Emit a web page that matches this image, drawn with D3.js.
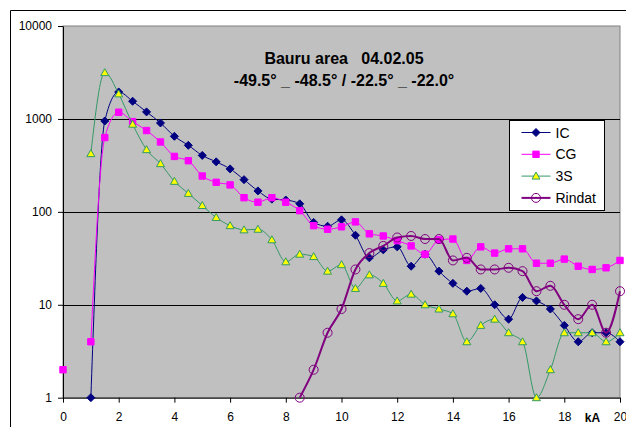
<!DOCTYPE html>
<html>
<head>
<meta charset="utf-8">
<script src="https://cdn.jsdelivr.net/npm/d3@7"></script>
<style>
  html, body { margin: 0; padding: 0; background: #fff; }
  svg { display: block; font-family: Arial, "Liberation Sans", sans-serif; }
</style>
</head>
<body>
<svg id="chart" width="626" height="427"></svg>
<script>
// ---- data (kA classes, counts) ----
const kA = [0,0.5,1,1.5,2,2.5,3,3.5,4,4.5,5,5.5,6,6.5,7,7.5,8,8.5,9,9.5,10,10.5,11,11.5,12,12.5,13,13.5,14,14.5,15,15.5,16,16.5,17,17.5,18,18.5,19,19.5,20];
const IC = [null,null,1,950,1950,1550,1190,905,650,520,405,345,290,222,168,137,134,122,77,70,82,56,32,39,42,26,35,23,17,14,15,10,7,12,11,9,6,4,5,5,4];
const CG = [2,null,4,630,1180,935,750,565,395,355,243,208,195,142,127,142,127,103,71,65,69,78,58,55,49,43,35,50,51,30,42,36,40,40,28,28,31,26,24,25,30];
const S3 = [null,null,423,3150,1860,877,467,330,213,158,117,87,71,64,65,50,29,35,33,23,27,15,21,17,11,13,10,9,8,4,6,7,5,4,1,2,5,5,5,4,5];
const Rindat = [null,null,null,null,null,null,null,null,null,null,null,null,null,null,null,null,null,1,2,5,9,24,36,43,53,55,51,51,30,32,24,24,25,23,14,16,10,7,10,5,14];
const seriesNames = ["IC","CG","3S","Rindat"];
const xTicks = [0,2,4,6,8,10,12,14,16,18,20];
const yTicks = [1,10,100,1000,10000];
const titleLines = ["Bauru area   04.02.05", "-49.5° _ -48.5° / -22.5° _ -22.0°"];
const xUnit = "kA";

// ---- layout ----
const svg = d3.select("#chart");
const L = 63, R = 620, T = 26, B = 397.7;

const x = d3.scaleLinear().domain([0, 20]).range([L, R]);
const y = d3.scaleLog().domain([1, 10000]).range([B, T]);

// outer chart border
svg.append("path").attr("d", "M10.5,440 V10.5 H640").attr("fill", "none").attr("stroke", "#000").attr("stroke-width", 1);

// plot area
svg.append("rect").attr("x", L).attr("y", T).attr("width", R - L).attr("height", B - T)
  .attr("fill", "#C0C0C0").attr("stroke", "#808080").attr("stroke-width", 1);

// gridlines
svg.append("g").selectAll("line").data(yTicks.filter(v => v > 1 && v < 10000)).join("line")
  .attr("x1", L).attr("x2", R).attr("y1", d => Math.round(y(d)) + 0.5).attr("y2", d => Math.round(y(d)) + 0.5)
  .attr("stroke", "#000").attr("stroke-width", 1);

// axes
const yAxis = svg.append("g").attr("transform", `translate(${L},0)`)
  .call(d3.axisLeft(y).tickValues(yTicks).tickFormat(d3.format("d")).tickSize(5).tickSizeOuter(0).tickPadding(6));
const xAxis = svg.append("g").attr("transform", `translate(0,${B})`)
  .call(d3.axisBottom(x).tickValues(xTicks).tickFormat(d3.format("d")).tickSize(5).tickSizeOuter(0).tickPadding(10));
[yAxis, xAxis].forEach(g => {
  g.selectAll("path,line").attr("stroke", "#000");
  g.selectAll("text").attr("fill", "#000").style("font-size", "12px").style("font-family", 'Arial, "Liberation Sans", sans-serif');
});

svg.append("text").attr("x", 592.5).attr("y", 421.5).attr("text-anchor", "middle")
  .style("font-size", "12px").style("font-weight", "bold").text(xUnit);

// markers
const markerPaths = {
  diamond: "M0,-4L4,0L0,4L-4,0Z",
  square: "M-3.2,-3.2H3.2V3.2H-3.2Z",
  triangle: "M0,-4L4,3L-4,3Z"
};

const series = [
  { name: seriesNames[0], values: IC, stroke: "#000080", width: 1, marker: "diamond", mfill: "#000080", mstroke: "#000080" },
  { name: seriesNames[1], values: CG, stroke: "#FF00FF", width: 1, marker: "square", mfill: "#FF00FF", mstroke: "#FF00FF" },
  { name: seriesNames[2], values: S3, stroke: "#339966", width: 1, marker: "triangle", mfill: "#FFFF00", mstroke: "#339966" },
  { name: seriesNames[3], values: Rindat, stroke: "#800080", width: 2, marker: "circle", mfill: "none", mstroke: "#800080" }
];

const line = d3.line()
  .defined(d => d.v != null && d.v > 0)
  .x(d => x(d.x)).y(d => y(d.v))
  .curve(d3.curveMonotoneX);

function drawMarker(g, s) {
  if (s.marker === "circle") {
    g.append("circle").attr("r", 4.5).attr("fill", "none").attr("stroke", s.mstroke).attr("stroke-width", 1);
  } else {
    g.append("path").attr("d", markerPaths[s.marker]).attr("fill", s.mfill).attr("stroke", s.mstroke).attr("stroke-width", 1);
  }
}

series.forEach(s => {
  const pts = kA.map((k, i) => ({ x: k, v: s.values[i] }));
  const g = svg.append("g");
  g.append("path").datum(pts).attr("d", line).attr("fill", "none")
    .attr("stroke", s.stroke).attr("stroke-width", s.width).attr("stroke-linejoin", "round");
  g.selectAll("g.m").data(pts.filter(p => p.v != null && p.v > 0)).join("g").attr("class", "m")
    .attr("transform", p => `translate(${x(p.x)},${y(p.v)})`)
    .each(function () { drawMarker(d3.select(this), s); });
});

// title
const title = svg.append("text").attr("text-anchor", "middle")
  .style("font-size", "16px").style("font-weight", "bold").attr("fill", "#000");
title.append("tspan").attr("x", 344).attr("y", 64).attr("xml:space", "preserve").style("white-space", "pre").text(titleLines[0]);
title.append("tspan").attr("x", 344).attr("y", 86).text(titleLines[1]);

// legend
const lg = svg.append("g").attr("transform", "translate(509.5,120.5)");
lg.append("rect").attr("width", 95).attr("height", 90).attr("fill", "#fff").attr("stroke", "#000").attr("stroke-width", 1);
series.forEach((s, i) => {
  const row = lg.append("g").attr("transform", `translate(0,${12 + i * 21.8})`);
  row.append("line").attr("x1", 12).attr("x2", 41).attr("y1", 0).attr("y2", 0)
    .attr("stroke", s.stroke).attr("stroke-width", s.width);
  const m = row.append("g").attr("transform", "translate(26.5,0)");
  drawMarker(m, s);
  row.append("text").attr("x", 46).attr("y", 5).style("font-size", "14px").attr("fill", "#000").text(s.name);
});
</script>
</body>
</html>
